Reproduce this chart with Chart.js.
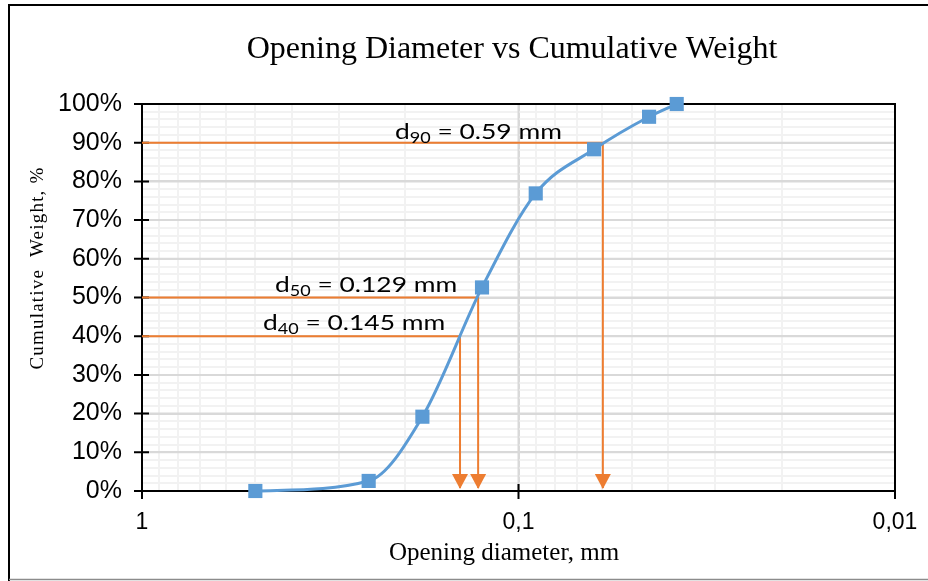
<!DOCTYPE html>
<html>
<head>
<meta charset="utf-8">
<title>Opening Diameter vs Cumulative Weight</title>
<script src="https://cdn.jsdelivr.net/npm/chart.js@4.4.1/dist/chart.umd.min.js"></script>
<style>
    html, body { margin: 0; padding: 0; background: #fff; }
    #wrap { position: relative; width: 928px; height: 581px; }
</style>
</head>
<body>
<div id="wrap"><canvas id="chart" width="928" height="581"></canvas></div>
<script>
'use strict';

// sieve opening (mm) and cumulative weight (%)
var openings = [0.5, 0.25, 0.18, 0.125, 0.09, 0.063, 0.045, 0.038];
var cumulative = [0, 2.6, 19.2, 52.6, 76.9, 88.3, 96.7, 100];

// characteristic diameters
var dNames = ['40', '50', '90'];
var dPercents = [40, 50, 90];
var dValues = [0.143, 0.128, 0.0597];
var dTexts = [' = 0.145 mm', ' = 0.129 mm', ' = 0.59 mm'];

var xTickValues = [1, 0.1, 0.01];
var xTickLabels = ['1', '0,1', '0,01'];

var BLUE = '#5B9BD5';
var ORANGE = '#ED7D31';
var MAJOR = '#d9d9d9';
var MINOR = '#f2f2f2';

// where the d-labels sit (left, baseline), in canvas px
var labelPos = [[263, 330], [275, 292], [395, 139]];

var gridValues = [];
for (var e = -2; e <= 0; e++) {
    for (var m = 1; m <= 9; m++) {
        var g = Number((m * Math.pow(10, e)).toPrecision(6));
        if (g <= 1) gridValues.push(g);
    }
}

var isDecade = function(v) {
    return xTickValues.some(function(t) { return Math.abs(t - v) < 1e-9; });
};

var datasets = [{
    label: 'Cumulative weight',
    data: openings.map(function(o, i) { return { x: o, y: cumulative[i] }; }),
    showLine: true,
    borderColor: BLUE,
    backgroundColor: BLUE,
    borderWidth: 3,
    cubicInterpolationMode: 'monotone',
    pointStyle: 'rect',
    pointRadius: 10,
    pointBorderWidth: 0,
    clip: false,
    order: 0
}];

dValues.forEach(function(v, i) {
    datasets.push({
        label: 'd' + dNames[i],
        data: [{ x: xTickValues[0], y: dPercents[i] }, { x: v, y: dPercents[i] }, { x: v, y: 0 }],
        showLine: true,
        borderColor: ORANGE,
        borderWidth: 2,
        pointRadius: 0,
        tension: 0,
        clip: { left: 3, top: 0, right: 0, bottom: -3 },
        order: 1
    });
});

var extras = {
    id: 'extras',
    beforeDatasetsDraw: function(chart) {
        var ctx = chart.ctx;
        var a = chart.chartArea;
        var xs = chart.scales.x;
        var ys = chart.scales.y;
        var v, px, py;
        ctx.save();
        // major gridlines again, so the minor ones do not cut them
        ctx.strokeStyle = MAJOR;
        ctx.lineWidth = 2;
        ctx.beginPath();
        for (v = 10; v < 100; v += 10) {
            py = ys.getPixelForValue(v);
            ctx.moveTo(a.left, py);
            ctx.lineTo(a.right, py);
        }
        xTickValues.forEach(function(t) {
            px = xs.getPixelForValue(t);
            ctx.moveTo(px, a.top);
            ctx.lineTo(px, a.bottom);
        });
        ctx.stroke();
        // plot frame + ticks across the axes
        ctx.strokeStyle = '#000';
        ctx.strokeRect(a.left, a.top, a.right - a.left, a.bottom - a.top);
        ctx.beginPath();
        for (v = 0; v <= 100; v += 10) {
            py = ys.getPixelForValue(v);
            ctx.moveTo(a.left - 8, py);
            ctx.lineTo(a.left + 7, py);
        }
        xTickValues.forEach(function(t, i) {
            px = xs.getPixelForValue(t);
            ctx.moveTo(px, i === xTickValues.length - 1 ? a.bottom : a.bottom - 7);
            ctx.lineTo(px, a.bottom + 8);
        });
        ctx.stroke();
        ctx.restore();
    },
    afterDatasetsDraw: function(chart) {
        var ctx = chart.ctx;
        var xs = chart.scales.x;
        var ys = chart.scales.y;
        ctx.save();
        // arrow heads
        ctx.fillStyle = ORANGE;
        dValues.forEach(function(v) {
            var px = xs.getPixelForValue(v);
            var tip = ys.getPixelForValue(0) - 2;
            ctx.beginPath();
            ctx.moveTo(px, tip);
            ctx.lineTo(px - 8, tip - 15);
            ctx.lineTo(px + 8, tip - 15);
            ctx.closePath();
            ctx.fill();
        });
        // d labels
        ctx.fillStyle = '#000';
        ctx.textBaseline = 'alphabetic';
        ctx.textAlign = 'left';
        var sx = 1.2;
        dNames.forEach(function(n, i) {
            var x0 = labelPos[i][0];
            var y0 = labelPos[i][1];
            ctx.save();
            ctx.translate(x0, y0);
            ctx.scale(sx, 1);
            ctx.font = '22px Lato';
            ctx.fillText('d', 0, 0);
            var w = ctx.measureText('d').width;
            ctx.font = '15px Lato';
            ctx.fillText(n, w, 4);
            w += ctx.measureText(n).width;
            ctx.font = '22px Lato';
            ctx.fillText(dTexts[i], w, 0);
            ctx.restore();
        });
        ctx.restore();
    },
    afterDraw: function(chart) {
        var ctx = chart.ctx;
        ctx.save();
        ctx.fillStyle = '#000';
        ctx.textAlign = 'center';
        ctx.textBaseline = 'middle';
        ctx.font = '32px "Liberation Serif"';
        ctx.fillText('Opening Diameter vs Cumulative Weight', 512, 50);
        ctx.font = '25px "Liberation Serif"';
        ctx.fillText('Opening diameter, mm', 504, 553);
        ctx.translate(38, 268);
        ctx.rotate(-Math.PI / 2);
        ctx.font = '19px "Liberation Serif"';
        ctx.letterSpacing = '1.2px';
        ctx.fillText('Cumulative  Weight, %', 0, 0);
        ctx.restore();
        // outer frame of the picture
        ctx.save();
        ctx.strokeStyle = '#000';
        ctx.lineWidth = 2;
        ctx.beginPath();
        ctx.moveTo(9, 581);
        ctx.lineTo(9, 5);
        ctx.lineTo(928, 5);
        ctx.stroke();
        ctx.strokeStyle = '#8c8c8c';
        ctx.lineWidth = 1.5;
        ctx.beginPath();
        ctx.moveTo(9, 579.5);
        ctx.lineTo(928, 579.5);
        ctx.stroke();
        ctx.restore();
    }
};

new Chart(document.getElementById('chart'), {
    type: 'scatter',
    data: { datasets: datasets },
    plugins: [extras],
    options: {
        responsive: false,
        animation: false,
        devicePixelRatio: 1,
        layout: { padding: { left: 0, top: 104, right: 33, bottom: 0 } },
        plugins: {
            legend: { display: false },
            title: { display: false },
            tooltip: { enabled: false }
        },
        scales: {
            x: {
                type: 'logarithmic',
                min: 0.01,
                max: 1,
                reverse: true,
                afterBuildTicks: function(scale) {
                    scale.ticks = gridValues.map(function(v) { return { value: v }; });
                },
                afterFit: function(scale) { scale.height = 90; },
                ticks: {
                    autoSkip: false,
                    maxRotation: 0,
                    padding: 18,
                    color: '#000',
                    font: { family: 'Liberation Sans', size: 23 },
                    callback: function(v) {
                        for (var i = 0; i < xTickValues.length; i++) {
                            if (Math.abs(xTickValues[i] - v) < 1e-9) return xTickLabels[i];
                        }
                        return '';
                    }
                },
                grid: {
                    drawTicks: false,
                    lineWidth: 2,
                    color: function(c) { return c.tick && isDecade(c.tick.value) ? MAJOR : MINOR; }
                },
                border: { display: false }
            },
            y: {
                type: 'linear',
                min: 0,
                max: 100,
                afterFit: function(scale) { scale.width = 142; },
                ticks: {
                    stepSize: 2,
                    autoSkip: false,
                    padding: 20,
                    color: '#000',
                    font: { family: 'Liberation Sans', size: 25 },
                    callback: function(v) { return v % 10 === 0 ? v + '%' : ''; }
                },
                grid: {
                    drawTicks: false,
                    lineWidth: 2,
                    color: function(c) { return c.tick && c.tick.value % 10 === 0 ? MAJOR : MINOR; }
                },
                border: { display: false }
            }
        }
    }
});
</script>
</body>
</html>
